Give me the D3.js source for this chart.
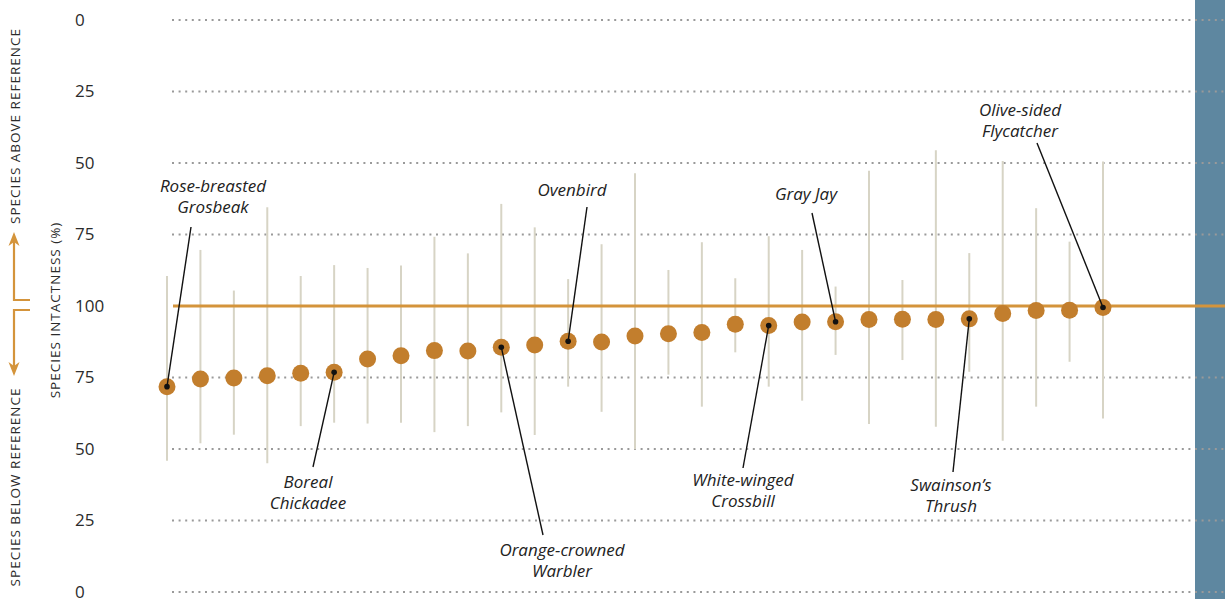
<!DOCTYPE html>
<html>
<head>
<meta charset="utf-8">
<script src="https://cdn.jsdelivr.net/npm/d3@7"></script>
<style>
  html, body { margin: 0; padding: 0; background: #fff; }
  svg { display: block; }
  .tick-label { font-family: "Open Sans", sans-serif; font-size: 17px; fill: #2b2b2b; }
  .side-label { font-family: "Open Sans", sans-serif; font-size: 13.5px; fill: #2b2b2b; letter-spacing: 1px; }
  .note { font-family: "Open Sans", sans-serif; font-style: italic; font-size: 17px; fill: #222; }
</style>
</head>
<body>
<svg id="chart" width="1225" height="599"></svg>
<script>
// Species ranked by intactness, lowest to highest
const ranks = [1, 2, 3, 4, 5, 6, 7, 8, 9, 10, 11, 12, 13, 14, 15, 16, 17, 18, 19, 20, 21, 22, 23, 24, 25, 26, 27, 28, 29];

// Intactness on a 0–200 scale: 100 = reference, below = fewer, above = more than reference
const intactness = [71.8, 74.5, 74.8, 75.6, 76.5, 76.8, 81.5, 82.6, 84.4, 84.3, 85.6, 86.4, 87.7, 87.4, 89.5,
                    90.3, 90.7, 93.6, 93.2, 94.4, 94.5, 95.3, 95.4, 95.3, 95.5, 97.4, 98.4, 98.5, 99.5];
const upperBound = [110.5, 119.6, 105.4, 134.5, 110.5, 114.3, 113.3, 114.2, 124.2, 118.4, 135.7, 127.5, 109.4, 121.6, 146.4,
                    112.6, 122.3, 109.7, 124.4, 119.6, 106.8, 147.3, 109.1, 154.5, 118.5, 150.7, 134.2, 122.5, 150.5];
const lowerBound = [45.9, 52.0, 55.0, 45.0, 58.0, 59.2, 58.9, 59.2, 55.9, 58.0, 62.8, 54.9, 71.8, 63.0, 49.9,
                    76.0, 64.8, 83.8, 71.8, 66.9, 82.9, 58.7, 81.1, 57.8, 77.0, 52.9, 64.8, 80.5, 60.7];

// Axis ticks on the 0–200 scale and the labels they carry
const tickValues = [0, 25, 50, 75, 100, 125, 150, 175, 200];
const tickLabels = ["0", "25", "50", "75", "100", "75", "50", "25", "0"];
const referenceValue = 100;

// Named species
const namedRanks = [1, 6, 11, 13, 19, 21, 25, 29];
const namedSpecies = [
  ["Rose-breasted", "Grosbeak"],
  ["Boreal", "Chickadee"],
  ["Orange-crowned", "Warbler"],
  ["Ovenbird"],
  ["White-winged", "Crossbill"],
  ["Gray Jay"],
  ["Swainson\u2019s", "Thrush"],
  ["Olive-sided", "Flycatcher"]
];

// Callout layout: label centre / first baseline, and where the leader line starts
const calloutLayout = [
  { tx: 213, ty: 192, lx: 191, ly: 227 },
  { tx: 308, ty: 488, lx: 313, ly: 467 },
  { tx: 562, ty: 556, lx: 543, ly: 535 },
  { tx: 572, ty: 196, lx: 587, ly: 207 },
  { tx: 743, ty: 486, lx: 743, ly: 468 },
  { tx: 806, ty: 200, lx: 812, ly: 213 },
  { tx: 951, ty: 491, lx: 953, ly: 472 },
  { tx: 1020, ty: 116, lx: 1037, ly: 143 }
];

const W = 1225, H = 599;
const plotLeft = 172, plotRight = 1225;
const svg = d3.select("#chart");

const x = d3.scalePoint().domain(ranks).range([167, 1103]);
const y = d3.scaleLinear().domain([0, 200]).range([592, 20]);

const colors = {
  dot: "#c27e2d",
  ref: "#d4943b",
  bar: "#d7d4c5",
  grid: "#9a9a9a",
  panel: "#5e87a0",
  ink: "#111"
};

// Right-hand panel
svg.append("rect")
  .attr("x", 1195).attr("y", 0)
  .attr("width", W - 1195).attr("height", H)
  .attr("fill", colors.panel);

// Dotted gridlines (the reference level gets a solid line instead)
svg.append("g")
  .selectAll("line")
  .data(tickValues.filter(v => v !== referenceValue))
  .join("line")
  .attr("x1", plotLeft).attr("x2", plotRight)
  .attr("y1", d => y(d)).attr("y2", d => y(d))
  .attr("stroke", colors.grid)
  .attr("stroke-width", 2)
  .attr("stroke-dasharray", "2 4.6");

// Tick labels through a D3 axis
const axis = d3.axisLeft(y)
  .tickValues(tickValues)
  .tickFormat((d, i) => tickLabels[i])
  .tickSize(0)
  .tickPadding(0);
const axisG = svg.append("g").attr("transform", "translate(75,0)").call(axis);
axisG.select(".domain").remove();
axisG.selectAll("text")
  .attr("class", "tick-label")
  .attr("text-anchor", "start")
  .attr("x", 0)
  .attr("dy", "0.32em")
  .attr("fill", null)
  .attr("font-size", null)
  .attr("font-family", null);

// Uncertainty ranges
svg.append("g")
  .selectAll("line")
  .data(ranks)
  .join("line")
  .attr("x1", d => x(d)).attr("x2", d => x(d))
  .attr("y1", (d, i) => y(upperBound[i]))
  .attr("y2", (d, i) => y(lowerBound[i]))
  .attr("stroke", colors.bar)
  .attr("stroke-width", 2);

// Reference line at 100%
svg.append("line")
  .attr("x1", 173).attr("x2", plotRight)
  .attr("y1", y(referenceValue)).attr("y2", y(referenceValue))
  .attr("stroke", colors.ref)
  .attr("stroke-width", 3);

// Species estimates
svg.append("g")
  .selectAll("circle")
  .data(ranks)
  .join("circle")
  .attr("cx", d => x(d))
  .attr("cy", (d, i) => y(intactness[i]))
  .attr("r", 8.5)
  .attr("fill", colors.dot);

// Callouts
const callouts = svg.append("g");
namedRanks.forEach((rank, k) => {
  const i = ranks.indexOf(rank);
  const px = x(rank), py = y(intactness[i]);
  const L = calloutLayout[k];
  callouts.append("line")
    .attr("x1", L.lx).attr("y1", L.ly)
    .attr("x2", px).attr("y2", py)
    .attr("stroke", colors.ink)
    .attr("stroke-width", 1.4);
  callouts.append("circle")
    .attr("cx", px).attr("cy", py)
    .attr("r", 2.8)
    .attr("fill", colors.ink);
  const t = callouts.append("text")
    .attr("class", "note")
    .attr("text-anchor", "middle");
  namedSpecies[k].forEach((line, j) => {
    t.append("tspan")
      .attr("x", L.tx)
      .attr("y", L.ty + j * 21)
      .text(line);
  });
});

// Side titles
svg.append("text")
  .attr("class", "side-label")
  .attr("transform", "translate(20,126) rotate(-90)")
  .attr("text-anchor", "middle")
  .text("SPECIES ABOVE REFERENCE");
svg.append("text")
  .attr("class", "side-label")
  .attr("transform", "translate(20,487) rotate(-90)")
  .attr("text-anchor", "middle")
  .text("SPECIES BELOW REFERENCE");
svg.append("text")
  .attr("class", "side-label")
  .attr("transform", "translate(60,310) rotate(-90)")
  .attr("text-anchor", "middle")
  .text("SPECIES INTACTNESS (%)");

// Direction arrows
const arrows = svg.append("g")
  .attr("fill", "none")
  .attr("stroke", colors.ref)
  .attr("stroke-width", 2.2);
arrows.append("path").attr("d", "M30,300 H14 V238");
arrows.append("path").attr("d", "M30,310 H14 V370");
svg.append("path")
  .attr("d", "M14,232 L8.5,246 L14,242 L19.5,246 Z")
  .attr("fill", colors.ref);
svg.append("path")
  .attr("d", "M14,376 L8.5,362 L14,366 L19.5,362 Z")
  .attr("fill", colors.ref);
</script>
</body>
</html>
